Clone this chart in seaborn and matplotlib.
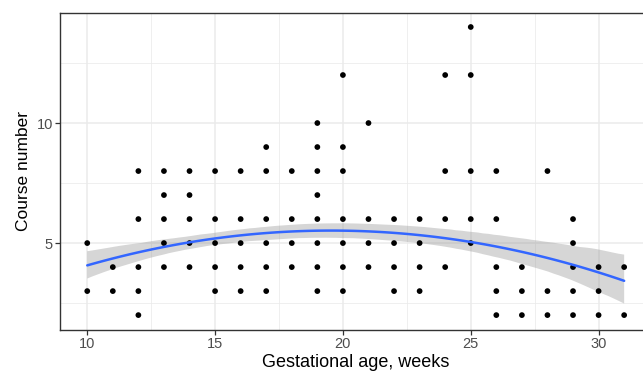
import numpy as np
import pandas as pd
import matplotlib
matplotlib.use("Agg")
import matplotlib.pyplot as plt
import seaborn as sns

# points, one list of course numbers per gestational week
weeks = list(range(10, 32))
courses = [
    [5, 3],                      # 10
    [4, 3],                      # 11
    [8, 6, 4, 3, 2],             # 12
    [8, 7, 6, 5, 4],             # 13
    [8, 7, 6, 5, 4],             # 14
    [8, 6, 5, 4, 3],             # 15
    [8, 6, 5, 4, 3],             # 16
    [9, 8, 6, 5, 4, 3],          # 17
    [8, 6, 5, 4],                # 18
    [10, 9, 8, 7, 6, 5, 4, 3],   # 19
    [12, 9, 8, 6, 5, 4, 3],      # 20
    [10, 6, 5, 4],               # 21
    [6, 5, 4, 3],                # 22
    [6, 5, 4, 3],                # 23
    [12, 8, 6, 4],               # 24
    [14, 12, 8, 6, 5],           # 25
    [8, 6, 4, 3, 2],             # 26
    [4, 3, 2],                   # 27
    [8, 3, 2],                   # 28
    [6, 5, 4, 3, 2],             # 29
    [4, 3, 2],                   # 30
    [4, 2],                      # 31
]
# overplotted points can't be seen, so these are guesses of how many
# patients sit on each dot (chosen so the fit/band look like the original)
counts = [
    [3, 3],
    [3, 3],
    [2, 4, 4, 3, 2],
    [2, 1, 4, 4, 4],
    [2, 1, 4, 4, 4],
    [2, 4, 4, 4, 3],
    [2, 4, 4, 4, 3],
    [1, 2, 4, 4, 4, 3],
    [2, 4, 4, 4],
    [1, 1, 2, 1, 4, 4, 4, 3],
    [1, 1, 2, 4, 4, 4, 3],
    [1, 4, 4, 4],
    [4, 4, 4, 3],
    [4, 4, 4, 3],
    [1, 2, 4, 4],
    [1, 1, 2, 4, 4],
    [2, 4, 4, 3, 2],
    [1, 1, 1],
    [1, 1, 1],
    [1, 1, 1, 1, 1],
    [1, 1, 1],
    [1, 1],
]
x_ticks = [10, 15, 20, 25, 30]
y_ticks = [5, 10]

pts = pd.DataFrame([(w, c) for w, cs in zip(weeks, courses) for c in cs],
                   columns=["week", "course"])
full = pd.DataFrame([(w, c) for w, cs, ns in zip(weeks, courses, counts)
                     for c, n in zip(cs, ns) for _ in range(n)],
                    columns=["week", "course"])

sns.set_theme(style="white")
plt.rcParams["font.family"] = ["Liberation Sans", "DejaVu Sans"]

fig = plt.figure(figsize=(6.43, 3.72), dpi=100)
# panel runs a little past the right edge, like the cropped original
ax = fig.add_axes([60.4 / 643, 1 - 329.5 / 372, (651 - 60.4) / 643, (329.5 - 12.6) / 372])

sns.regplot(data=full, x="week", y="course", order=2, ax=ax, ci=95, seed=1,
            scatter=False, truncate=True,
            line_kws=dict(color="#3366FF", lw=1.8, zorder=4))
for coll in ax.collections:
    coll.set_facecolor("#999999")
    coll.set_alpha(0.4)
    coll.set_edgecolor("none")
    coll.set_zorder(2.5)

sns.scatterplot(data=pts, x="week", y="course", ax=ax, s=17, color="black",
                edgecolor="none", alpha=1, zorder=3)

ax.set_xlim(8.95, 32.05)
ax.set_ylim(1.4, 14.6)
ax.set_xticks(x_ticks)
ax.set_yticks(y_ticks)
ax.set_xticks([12.5, 17.5, 22.5, 27.5], minor=True)
ax.set_yticks([2.5, 7.5, 12.5], minor=True)
ax.grid(True, which="major", color="#EBEBEB", lw=1.1, zorder=0)
ax.grid(True, which="minor", color="#EBEBEB", lw=0.55, zorder=0)
ax.set_axisbelow(True)

for sp in ax.spines.values():
    sp.set_color("#333333")
    sp.set_linewidth(1.0)

ax.tick_params(which="major", length=3.5, width=0.9, color="#333333",
               labelcolor="#4D4D4D", labelsize=10.5, pad=2, bottom=True, left=True)
ax.tick_params(which="minor", length=0)

ax.set_xlabel("Gestational age, weeks", fontsize=13, color="black", labelpad=2)
ax.set_ylabel("Course number", fontsize=12.5, color="black", labelpad=4)

fig.savefig("out.png", dpi=100)
